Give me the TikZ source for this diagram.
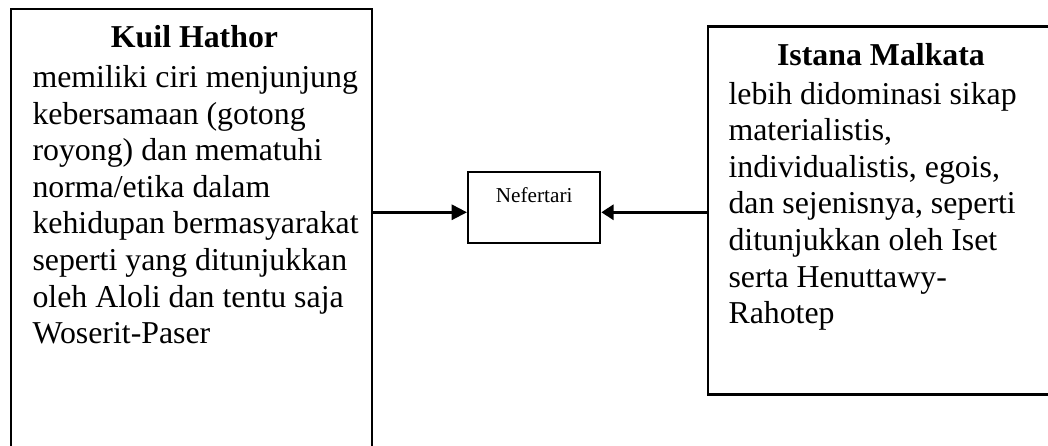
\documentclass[tikz,border=0pt]{standalone}
\usepackage{fontspec}
\setmainfont{Liberation Serif}
\usetikzlibrary{arrows.meta,calc}
% first-line strut: puts the top of a text block exactly 10pt above its first baseline
\newcommand{\firststrut}{\rule{0pt}{10pt}}
\begin{document}
\begin{tikzpicture}[x=0.377pt,y=-0.377pt,
  panel/.style={draw, line width=#1, inner sep=0pt, anchor=north west},
  panel/.default=0.85pt,
  bodytext/.style={font=\fontsize{12}{13.8}\selectfont, align=left, inner sep=0pt, anchor=north west},
  titletext/.style={font=\fontsize{12}{13.8}\selectfont\bfseries, inner sep=0pt, anchor=base},
  link/.style={line width=1pt, -{Triangle[length=#1,width=5.7pt]}},
  link/.default=5.8pt]
  \useasboundingbox (0,0) rectangle (1048,446);
  \clip (0,0) rectangle (1048,446);

  % left panel (runs past the lower edge)
  \node[panel=0.75pt, minimum width=136.1pt, minimum height=174.2pt] (kuil) at (10,8) {};
  \node[titletext] (kuilT) at (194.5,48) {Kuil Hathor};
  \node[bodytext] (kuilB) at (32,60.5) {\firststrut memiliki ciri menjunjung\\
    kebersamaan (gotong\\
    royong) dan mematuhi\\
    norma/etika dalam\\
    kehidupan bermasyarakat\\
    seperti yang ditunjukkan\\
    oleh Aloli dan tentu saja\\
    Woserit-Paser};

  % right panel (runs past the right edge)
  \node[panel=0.9pt, minimum width=133.1pt, minimum height=138.7pt] (mal) at (707,25.5) {};
  \node[titletext] (malT) at (881,66) {Istana Malkata};
  \node[bodytext] (malB) at (728,77) {\firststrut lebih didominasi sikap\\
    materialistis,\\
    individualistis, egois,\\
    dan sejenisnya, seperti\\
    ditunjukkan oleh Iset\\
    serta Henuttawy-\\
    Rahotep};

  % centre box
  \node[panel, minimum width=49.8pt, text height=11.3pt, text depth=15.5pt,
        font=\fontsize{8}{9}\selectfont] (nef) at (467,171) {Nefertari};

  % connectors into the centre box
  \coordinate (nefL) at ($(nef.north west)!0.563!(nef.south west)$);
  \coordinate (nefR) at ($(nef.north east)!0.563!(nef.south east)$);
  \draw[link] (kuil.east |- nefL) -- (nefL);
  \draw[link=4.6pt] (mal.west |- nefR) -- (nefR);
\end{tikzpicture}
\end{document}
